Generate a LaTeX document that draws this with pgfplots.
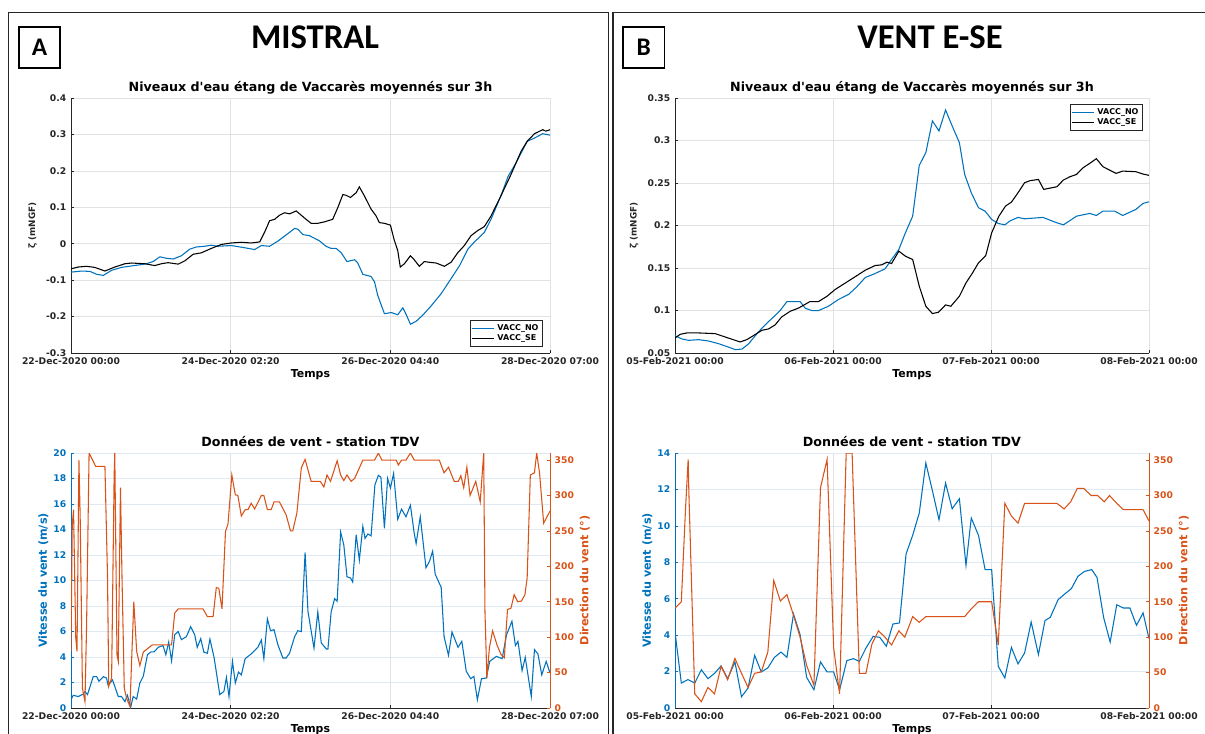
\documentclass[border=0pt]{standalone}
\usepackage{pgfplots}
\pgfplotsset{compat=1.18}
\usepackage{fontspec}
\setmainfont{DejaVu Sans}
\newfontfamily\carlito{Carlito}
\definecolor{mblue}{RGB}{0,114,189}
\definecolor{morange}{RGB}{217,83,25}
\definecolor{mgrid}{RGB}{226,226,226}
\definecolor{mgridb}{RGB}{222,233,244}
\definecolor{maxis}{RGB}{38,38,38}
\pgfplotsset{
  base/.style={scale only axis, anchor=south west,
    tick align=inside, major tick length=2.5pt,
    /pgf/number format/assume math mode=true,
    ticklabel style={font=\fontsize{6.9}{7.5}\bfseries\selectfont, text=maxis},
    tick style={maxis, line width=0.5pt},
    axis line style={-, maxis, line width=0.5pt},
  },
  mystyle/.style={base,
    grid=major, grid style={mgrid, line width=0.5pt},
    axis x line*=bottom, axis y line*=left,
    title style={font=\fontsize{9.5}{10}\bfseries\selectfont, at={(0.5,1)}, anchor=base, yshift=-0.8pt},
    xlabel style={font=\fontsize{8.2}{9}\bfseries\selectfont, yshift=3pt},
    ylabel style={font=\fontsize{6.6}{7}\bfseries\selectfont, text=maxis},
    every axis plot/.append style={line width=0.8pt},
  },
  mylegend/.style={legend style={font=\fontsize{6}{7}\bfseries\selectfont, draw=maxis, line width=0.5pt, inner sep=1pt, row sep=-2.5pt, legend cell align=left},
    legend image code/.code={\draw[##1, line width=0.8pt] (0cm,0cm) -- (0.58cm,0cm);}},
}
\begin{document}
\begin{tikzpicture}
% ---------- Panel A top ----------
\begin{axis}[mystyle, mylegend, at={(53.25pt,-264.75pt)}, width=359.25pt, height=191.25pt,
  xmin=0, xmax=151, ymin=-0.3, ymax=0.4,
  xtick={0,50.3333,100.6667,151},
  xticklabels={22-Dec-2020 00:00,24-Dec-2020 02:20,26-Dec-2020 04:40,28-Dec-2020 07:00},
  ytick={-0.3,-0.2,-0.1,0,0.1,0.2,0.3,0.4},
  yticklabels={-0.3,-0.2,-0.1,0,0.1,0.2,0.3,0.4},
  title={Niveaux d\textquotesingle eau étang de Vaccarès moyennés sur 3h},
  xlabel={Temps}, ylabel={ζ (mNGF)},
  legend style={at={(0.985,0.024)}, anchor=south east}]
\addplot[mblue] coordinates {(0,-0.078)(3.4,-0.075)(6.0,-0.076)(8.1,-0.084)(10.2,-0.087)(12.8,-0.073)(15.9,-0.065)(19.1,-0.061)(23.3,-0.056)(25.9,-0.049)(28.0,-0.036)(30.1,-0.040)(32.2,-0.042)(34.8,-0.033)(37.4,-0.015)(39.5,-0.009)(42.2,-0.007)(44.2,-0.004)(46.3,-0.007)(50.5,-0.005)(54.7,-0.011)(57.9,-0.016)(60.0,-0.005)(62.6,-0.007)(65.2,0.007)(67.8,0.024)(70.5,0.042)(71.5,0.040)(73.1,0.025)(75.2,0.022)(78.3,0.008)(80.4,-0.007)(82.0,-0.013)(83.6,-0.013)(85.2,-0.025)(87.0,-0.049)(89.4,-0.044)(90.4,-0.053)(92.0,-0.084)(94.6,-0.090)(95.7,-0.105)(96.7,-0.142)(98.8,-0.192)(101.0,-0.189)(103.0,-0.195)(104.6,-0.176)(105.7,-0.195)(107.0,-0.221)(108.8,-0.213)(110.9,-0.196)(113.5,-0.171)(116.7,-0.137)(119.8,-0.096)(122.5,-0.060)(125.1,-0.015)(127.2,0.005)(130.3,0.031)(132.4,0.067)(135.5,0.131)(137.8,0.185)(140.3,0.222)(143.8,0.281)(146.1,0.290)(148.7,0.302)(151,0.298)};
\addlegendentry{VACC\_NO}
\addplot[black] coordinates {(0,-0.069)(2.3,-0.064)(4.9,-0.062)(7.5,-0.065)(10.7,-0.075)(13.8,-0.064)(17.0,-0.055)(19.1,-0.053)(23.3,-0.055)(26.4,-0.060)(28.5,-0.055)(30.6,-0.052)(33.8,-0.056)(35.9,-0.047)(38.5,-0.029)(41.1,-0.025)(44.2,-0.013)(47.4,-0.002)(50.5,0.002)(53.7,0.004)(56.8,0.002)(59.5,0.005)(61.0,0.031)(62.6,0.063)(64.2,0.067)(65.7,0.078)(67.3,0.085)(68.9,0.082)(71.0,0.090)(72.6,0.078)(74.1,0.067)(75.7,0.056)(77.8,0.056)(79.9,0.060)(82.5,0.067)(84.1,0.099)(85.7,0.135)(86.7,0.133)(88.1,0.127)(89.9,0.140)(90.9,0.156)(92.5,0.131)(94.6,0.095)(96.2,0.076)(97.2,0.058)(98.8,0.056)(100.7,0.051)(101.8,0.013)(103.0,-0.019)(103.8,-0.064)(105.1,-0.055)(107.0,-0.033)(108.2,-0.044)(109.8,-0.062)(111.4,-0.049)(113.0,-0.051)(115.1,-0.053)(117.7,-0.062)(119.8,-0.051)(121.9,-0.025)(124.0,-0.005)(126.1,0.022)(128.2,0.036)(130.3,0.047)(132.4,0.076)(135.5,0.131)(138.7,0.190)(141.9,0.254)(143.8,0.281)(146.1,0.302)(148.7,0.313)(149.7,0.309)(151,0.313)};
\addlegendentry{VACC\_SE}
\end{axis}
% ---------- Panel A bottom ----------
\begin{axis}[mystyle, at={(53.25pt,-531pt)}, width=359.25pt, height=191.25pt,
  xmin=0, xmax=151, ymin=0, ymax=20,
  xtick={0,50.3333,100.6667,151},
  xticklabels={22-Dec-2020 00:00,24-Dec-2020 02:20,26-Dec-2020 04:40,28-Dec-2020 07:00},
  ytick={0,2,...,20},
  y grid style={mgridb}, y axis line style={mblue}, ytick style={mblue}, yticklabel style={text=mblue},
  title={Données de vent - station TDV},
  xlabel={Temps}, ylabel={Vitesse du vent (m/s)},
  ylabel style={text=mblue, font=\fontsize{8.4}{9}\bfseries\selectfont, yshift=-3pt}]
\addplot[mblue] coordinates {(0,0.65)(0.7,1.0)(2.3,0.9)(3.9,1.1)(4.4,1.3)(5.2,1.05)(7.0,2.46)(8.1,2.46)(8.8,2.1)(10.2,2.46)(11.2,2.35)(11.7,1.78)(13.1,2.2)(14.9,0.9)(15.9,0.9)(17.0,0.5)(17.8,1.0)(18.8,0.05)(19.6,0.9)(20.7,0.7)(21.7,1.96)(22.8,2.5)(24.1,4.18)(25.2,4.4)(26.2,4.4)(27.5,4.76)(29.0,4.9)(29.9,4.18)(30.8,5.18)(31.7,3.7)(32.7,5.75)(33.8,6.0)(34.8,5.36)(36.4,5.6)(37.7,6.38)(39.0,5.75)(39.8,4.76)(40.9,5.44)(41.9,4.37)(43.0,4.3)(43.8,5.4)(45.1,3.97)(46.9,1.05)(48.2,1.3)(49.0,2.4)(49.8,0.9)(50.9,3.66)(51.8,1.96)(52.8,2.82)(53.7,2.6)(54.9,3.87)(56.8,4.24)(58.9,4.76)(60.0,5.33)(60.8,3.87)(61.9,7.0)(62.9,6.06)(64.0,6.14)(65.2,4.97)(66.8,3.92)(67.8,3.92)(68.9,4.3)(70.5,5.6)(71.5,6.06)(72.6,6.0)(73.8,12.2)(74.7,7.58)(76.6,4.7)(77.8,7.53)(78.9,5.1)(80.5,4.63)(81.0,4.63)(82.0,7.53)(83.1,8.58)(83.9,8.37)(85.0,13.8)(86.0,12.8)(87.0,10.3)(88.1,10.2)(88.8,9.88)(89.9,13.6)(90.9,11.6)(92.0,14.25)(92.7,13.3)(93.6,13.65)(94.6,13.5)(95.8,17.5)(96.9,18.25)(97.7,18.1)(98.8,14.1)(99.8,18.0)(100.7,17.25)(101.7,18.4)(103.0,14.8)(104.2,15.6)(105.6,15.0)(107.0,15.9)(108.2,13.7)(108.8,12.9)(110.1,15.0)(111.9,11.0)(113.0,11.5)(114.0,12.3)(114.8,10.5)(116.7,9.46)(117.6,5.6)(119.0,4.13)(120.1,5.96)(122.0,4.76)(123.2,5.23)(124.6,2.88)(126.0,2.3)(127.0,2.48)(128.1,0.65)(129.4,2.3)(130.9,2.35)(132.0,3.66)(134.1,4.05)(135.9,3.87)(137.3,5.75)(139.0,6.8)(140.1,4.9)(140.9,5.23)(142.2,2.93)(143.2,3.97)(145.1,0.9)(146.1,4.58)(147.2,4.24)(148.4,2.6)(149.8,3.66)(151,2.75)};
\end{axis}
\begin{axis}[base, at={(53.25pt,-531pt)}, width=359.25pt, height=191.25pt,
  xmin=0, xmax=151, ymin=0, ymax=360,
  axis x line=none, axis y line*=right,
  ytick={0,50,...,350},
  y axis line style={morange}, ytick style={morange}, yticklabel style={text=morange},
  ylabel={Direction du vent (°)},
  ylabel style={text=morange, font=\fontsize{8.4}{9}\bfseries\selectfont, yshift=2.5pt}]
\addplot[morange, line width=0.8pt] coordinates {(0,80)(0.4,259)(0.8,280)(1.5,99)(1.9,80)(2.5,350)(2.9,268)(3.6,28)(4.4,9)(4.9,113)(5.7,360)(7.8,341)(10.7,341)(11.5,188)(11.9,31)(12.8,42)(13.6,328)(13.8,360)(14.5,75)(14.9,66)(15.6,311)(16.1,179)(16.8,28)(17.5,14)(18.6,2)(19.1,66)(19.8,150)(20.7,80)(21.7,60)(22.8,79)(25.6,89)(31.7,89)(32.7,134)(33.8,140)(41.6,140)(43.0,129)(44.8,129)(45.8,170)(46.6,169)(47.6,140)(48.7,249)(49.5,260)(50.7,329)(51.8,301)(52.6,300)(53.7,271)(54.9,280)(55.8,280)(56.8,289)(57.9,281)(60.0,300)(60.8,300)(61.9,280)(63.1,280)(64.0,291)(65.7,291)(67.8,273)(69.2,250)(69.9,250)(71.2,275)(72.6,339)(73.8,351)(75.2,328)(75.7,320)(78.6,320)(79.7,312)(80.7,329)(81.8,320)(83.9,349)(85.0,329)(86.0,321)(87.0,329)(88.3,320)(89.4,324)(92.0,350)(95.7,350)(96.9,360)(98.0,350)(102.5,350)(103.2,343)(104.2,350)(105.6,350)(107.0,360)(108.2,350)(116.1,350)(117.6,332)(119.0,340)(120.8,320)(122.1,320)(122.9,328)(123.8,311)(124.8,340)(125.8,300)(127.6,320)(129.0,291)(130.1,360)(130.5,136)(131.1,42)(131.9,85)(132.9,109)(134.3,89)(135.5,76)(136.6,71)(137.6,139)(138.7,141)(139.7,160)(140.8,150)(142.0,151)(143.1,160)(143.8,184)(144.8,329)(146.1,332)(146.8,360)(147.7,332)(149.0,261)(151,278)};
\end{axis}
% ---------- Panel B top ----------
\begin{axis}[mystyle, mylegend, at={(506.25pt,-264.75pt)}, width=355.5pt, height=191.25pt,
  xmin=0, xmax=72, ymin=0.05, ymax=0.35,
  xtick={0,24,48,72},
  xticklabels={05-Feb-2021 00:00,06-Feb-2021 00:00,07-Feb-2021 00:00,08-Feb-2021 00:00},
  ytick={0.05,0.1,0.15,0.2,0.25,0.3,0.35},
  yticklabels={0.05,0.1,0.15,0.2,0.25,0.3,0.35},
  title={Niveaux d\textquotesingle eau étang de Vaccarès moyennés sur 3h},
  xlabel={Temps}, ylabel={ζ (mNGF)},
  legend style={at={(0.987,0.976)}, anchor=north east}]
\addplot[mblue] coordinates {(0,0.0704)(1.06,0.0665)(2.07,0.0649)(3.6,0.0657)(5.1,0.0641)(6.6,0.061)(8.1,0.057)(9.2,0.0539)(10.2,0.0547)(11.2,0.061)(12.7,0.0751)(14.2,0.0869)(15.2,0.094)(16.0,0.1003)(17.0,0.1105)(19.0,0.1105)(19.8,0.1026)(20.8,0.0999)(21.8,0.0999)(23.3,0.105)(24.8,0.1128)(26.4,0.1191)(27.6,0.1278)(28.9,0.1388)(30.4,0.1435)(31.9,0.149)(32.9,0.16)(34.0,0.1718)(35.0,0.1914)(36.1,0.211)(37.1,0.2707)(38.1,0.2857)(39.1,0.323)(40.1,0.3112)(41.1,0.3359)(42.1,0.3171)(43.2,0.2974)(44.0,0.2601)(45.0,0.2385)(46.1,0.2209)(47.1,0.2169)(48.1,0.2071)(49.1,0.2024)(50.1,0.2008)(50.9,0.2055)(52.1,0.2095)(53.1,0.2079)(55.9,0.2095)(58.0,0.2032)(59.0,0.2008)(61.0,0.211)(63.0,0.2142)(64.0,0.2118)(65.0,0.2169)(66.8,0.2169)(68.0,0.2118)(70.0,0.2189)(71.1,0.226)(72,0.2279)};
\addlegendentry{VACC\_NO}
\addplot[black] coordinates {(0,0.0677)(0.8,0.072)(1.8,0.0736)(3.6,0.0736)(6.1,0.0728)(7.9,0.0681)(9.9,0.063)(10.9,0.0657)(11.9,0.0704)(13.2,0.0767)(14.2,0.0783)(15.2,0.083)(16.2,0.0924)(17.5,0.0991)(18.8,0.103)(20.5,0.1105)(21.8,0.1105)(23.1,0.1168)(24.3,0.1246)(25.9,0.1325)(27.1,0.1384)(28.9,0.1474)(30.4,0.1529)(31.4,0.1537)(32.2,0.1568)(32.9,0.1553)(34.0,0.1698)(35.0,0.1639)(36.1,0.160)(37.1,0.1286)(38.1,0.105)(39.1,0.0964)(40.0,0.0979)(41.1,0.1066)(41.9,0.105)(43.2,0.1168)(44.2,0.1325)(45.2,0.1443)(46.1,0.1561)(47.2,0.1647)(48.1,0.1914)(49.2,0.211)(50.2,0.2228)(51.1,0.2275)(52.1,0.2385)(53.1,0.2503)(53.9,0.2527)(55.2,0.2542)(56.0,0.2425)(58.0,0.2456)(59.0,0.2535)(60.0,0.2574)(61.0,0.2601)(62.0,0.268)(63.0,0.2731)(64.0,0.2786)(65.0,0.2692)(66.0,0.2652)(67.0,0.2613)(68.0,0.264)(70.0,0.2633)(71.1,0.2605)(72,0.259)};
\addlegendentry{VACC\_SE}
\end{axis}
% ---------- Panel B bottom ----------
\begin{axis}[mystyle, at={(506.25pt,-531pt)}, width=355.5pt, height=191.25pt,
  xmin=0, xmax=72, ymin=0, ymax=14,
  xtick={0,24,48,72},
  xticklabels={05-Feb-2021 00:00,06-Feb-2021 00:00,07-Feb-2021 00:00,08-Feb-2021 00:00},
  ytick={0,2,...,14},
  y grid style={mgridb}, y axis line style={mblue}, ytick style={mblue}, yticklabel style={text=mblue},
  title={Données de vent - station TDV},
  xlabel={Temps}, ylabel={Vitesse du vent (m/s)},
  ylabel style={text=mblue, font=\fontsize{8.4}{9}\bfseries\selectfont, yshift=-3pt}]
\addplot[mblue] coordinates {(0,4.17)(0.96,1.37)(1.97,1.56)(3.0,1.37)(4.0,2.1)(5.0,1.61)(6.0,1.9)(7.0,2.31)(8.0,1.61)(9.1,2.53)(10.1,0.62)(11.1,1.1)(12.1,2.89)(13.1,1.98)(14.1,2.2)(15.1,2.78)(16.1,3.07)(17.0,2.78)(18.0,5.16)(19.0,4.03)(20.0,1.68)(21.1,1.0)(22.1,2.53)(23.1,1.98)(24.1,1.98)(25.0,1.0)(26.1,2.6)(27.1,2.71)(28.0,2.56)(29.0,3.29)(30.1,3.93)(31.1,3.88)(32.1,3.39)(33.1,4.61)(34.1,4.67)(35.1,8.46)(36.1,9.48)(37.1,10.7)(38.1,13.45)(39.1,11.93)(40.1,10.34)(41.1,12.35)(42.1,10.94)(43.2,11.49)(44.2,7.83)(45.0,10.43)(46.1,9.48)(47.1,7.6)(48.1,7.6)(49.1,2.29)(50.1,1.65)(51.1,3.33)(52.1,2.42)(53.1,3.02)(54.1,4.72)(55.2,2.93)(56.2,4.8)(57.0,4.98)(58.2,5.95)(59.2,6.26)(60.2,6.55)(61.2,7.23)(62.2,7.5)(63.3,7.6)(64.1,7.17)(65.1,4.98)(66.1,3.62)(67.1,5.67)(68.1,5.49)(69.1,5.49)(70.1,4.54)(71.1,5.22)(72,3.81)};
\end{axis}
\begin{axis}[base, at={(506.25pt,-531pt)}, width=355.5pt, height=191.25pt,
  xmin=0, xmax=72, ymin=0, ymax=360,
  axis x line=none, axis y line*=right,
  ytick={0,50,...,350},
  y axis line style={morange}, ytick style={morange}, yticklabel style={text=morange},
  ylabel={Direction du vent (°)},
  ylabel style={text=morange, font=\fontsize{8.4}{9}\bfseries\selectfont, yshift=2.5pt}]
\addplot[morange, line width=0.8pt] coordinates {(0,141)(0.96,150)(1.6,282)(2.0,351)(2.1,306)(3.0,20)(4.0,9)(5.0,29)(6.0,20)(7.0,59)(8.0,40)(9.1,70)(10.1,49)(11.1,29)(12.1,49)(13.1,51)(14.1,79)(15.0,180)(16.0,151)(17.0,160)(18.0,131)(19.0,100)(20.0,60)(21.1,32)(22.1,311)(23.1,351)(24.1,85)(25.0,20)(26.0,360)(26.9,360)(28.0,49)(29.0,49)(29.9,90)(30.9,109)(31.9,100)(32.9,89)(34.0,109)(34.9,100)(36.1,129)(37.1,121)(38.1,129)(44.0,129)(45.0,140)(46.1,150)(48.1,150)(49.1,89)(50.1,289)(51.1,271)(52.1,261)(53.1,289)(58.0,289)(59.1,281)(60.1,291)(61.1,310)(62.1,310)(63.2,300)(64.2,300)(65.2,291)(66.0,300)(67.1,289)(68.1,280)(71.1,280)(72,264)};
\end{axis}
% ---------- frames, panel letters, big titles ----------
\draw[line width=1.1pt, black!85] (6.4pt,-9.5pt) rectangle (456.5pt,-560pt);
\draw[line width=1.1pt, black!85] (459.8pt,-9.5pt) rectangle (912pt,-560pt);
\draw[line width=0.8pt] (14.25pt,-20.25pt) rectangle (45pt,-51pt);
\node[font=\carlito\bfseries\fontsize{19}{20}\selectfont] at (29.6pt,-35.6pt) {A};
\draw[line width=0.8pt] (467.25pt,-20.25pt) rectangle (498.4pt,-51pt);
\node[font=\carlito\bfseries\fontsize{19}{20}\selectfont] at (482.8pt,-35.6pt) {B};
\node[font=\carlito\bfseries\fontsize{26}{28}\selectfont] at (236.25pt,-27.75pt) {MISTRAL};
\node[font=\carlito\bfseries\fontsize{26}{28}\selectfont] at (697.5pt,-27.75pt) {VENT E-SE};
\pgfresetboundingbox
\useasboundingbox (0pt,0pt) rectangle (903.75pt,-550.5pt);
\end{tikzpicture}
\end{document}
